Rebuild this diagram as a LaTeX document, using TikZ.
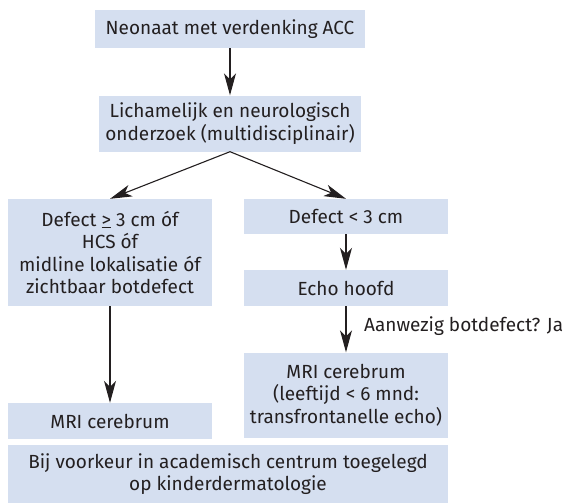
\documentclass[tikz,border=0pt]{standalone}
\usepackage{fontspec}
\setmainfont{Fira Sans}
\usetikzlibrary{arrows.meta}
\definecolor{boxblue}{RGB}{213,223,240}
\definecolor{inkgray}{RGB}{35,31,32}

\begin{document}
\begin{tikzpicture}[x=1pt,y=-1pt,
  stepbox/.style={fill=boxblue,inner sep=0pt,align=center,text=inkgray,
    font=\fontsize{19}{22.5}\selectfont},
  flow/.style={draw=inkgray,line width=1.1pt,
    -{Stealth[length=22pt,width=12pt,inset=6pt]}}]
\useasboundingbox (0,0) rectangle (566,504);
\node[stepbox,minimum width=270pt,minimum height=38pt] (start) at (230,29) {Neonaat met verdenking ACC};
\node[stepbox,minimum width=262pt,minimum height=56pt] (exam) at (230,123.5) {Lichamelijk en neurologisch\\onderzoek (multidisciplinair)};
\node[stepbox,minimum width=204pt,minimum height=107pt] (big) at (110,252.5) {Defect \underline{>} 3 cm óf\\HCS óf\\midline lokalisatie óf\\zichtbaar botdefect};
\node[stepbox,minimum width=204pt,minimum height=35pt] (small) at (346,216.5) {Defect < 3 cm};
\node[stepbox,minimum width=204pt,minimum height=36pt] (echo) at (346,288) {Echo hoofd};
\node[stepbox,minimum width=204pt,minimum height=85pt] (mrib) at (346,395) {MRI cerebrum\\(leeftijd < 6 mnd:\\transfrontanelle echo)};
\node[stepbox,minimum width=204pt,minimum height=36pt] (mria) at (110,421) {MRI cerebrum};
\node[stepbox,minimum width=440pt,minimum height=58pt] (centre) at (228,474) {Bij voorkeur in academisch centrum toegelegd\\op kinderdermatologie};
\node[anchor=west,inner sep=0pt,text=inkgray,font=\fontsize{19}{22.5}\selectfont] (ja) at (364,326) {Aanwezig botdefect? Ja};
\draw[flow] (start) -- (exam);
\draw[flow] (exam.south) -- (big.north);
\draw[flow] (exam.south) -- (small.north);
\draw[flow] (small) -- (echo);
\draw[flow] (echo) -- (mrib);
\draw[flow] (big) -- (mria);
\end{tikzpicture}
\end{document}
